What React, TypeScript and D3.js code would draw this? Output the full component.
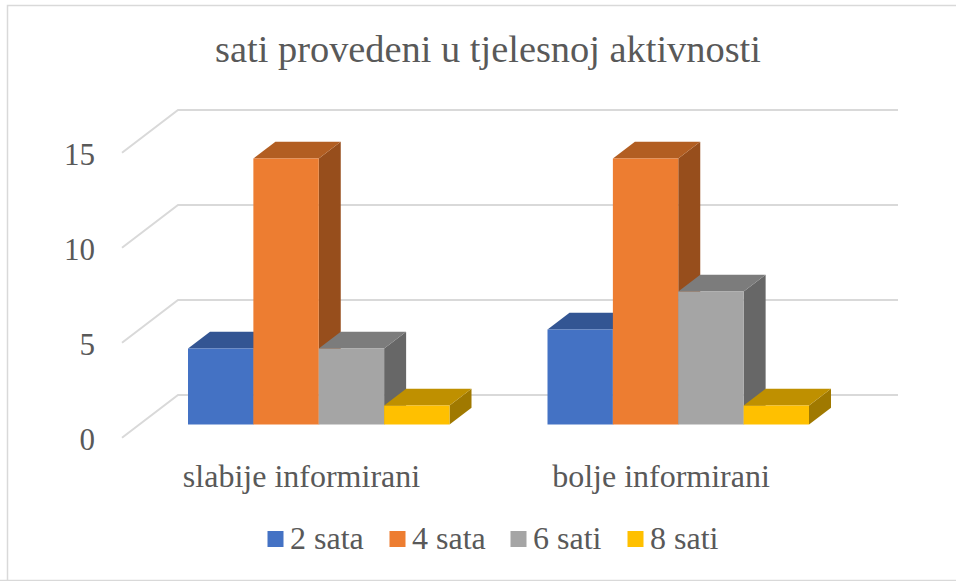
import React from "react";
import * as d3 from "d3";

const categories = ["slabije informirani", "bolje informirani"];
const seriesNames = ["2 sata", "4 sata", "6 sati", "8 sati"];
const values2 = [4, 5];
const values4 = [14, 14];
const values6 = [4, 7];
const values8 = [1, 1];
const seriesValues = [values2, values4, values6, values8];
const colors = ["#4472c4", "#ed7d31", "#a5a5a5", "#ffc000"];
const topColors = ["#335593", "#b25e22", "#7c7c7c", "#bf9000"];
const sideColors = ["#2a4779", "#974e1c", "#676767", "#a07900"];
const yTicks = [0, 5, 10, 15];
const legendX = [268, 390, 511, 628];

const F = "'Liberation Serif','Times New Roman',serif";
const TXT = "#595959";

const x0 = d3.scaleBand<string>().domain(categories).range([139.25, 858.25]);
const x1 = d3.scaleBand<string>().domain(seriesNames).range([48.75, 310.25]);
const yFront = d3.scaleLinear().domain([0, 15]).range([424.5, 139.5]);
const yWallFront = d3.scaleLinear().domain([0, 15]).range([437.7, 152.7]);
const yWallBack = d3.scaleLinear().domain([0, 15]).range([395, 110]);
const DX = 22;
const DY = 16.7;

export default function App() {
  return (
    <svg
      width={956}
      height={581}
      style={{ position: "absolute", left: 0, top: 0, background: "#fff" }}
      fontFamily={F}
    >
      <path d="M7.5 581V5.5H956M0 580.5H956" fill="none" stroke="#d9d9d9" strokeWidth={1.5} />
      <text x={488} y={62} textAnchor="middle" fontSize={38.4} fill={TXT}>
        sati provedeni u tjelesnoj aktivnosti
      </text>
      {yTicks.map((t) => (
        <g key={t}>
          <path
            d={`M122 ${yWallFront(t)}L178 ${yWallBack(t)}H898`}
            fill="none"
            stroke="#d9d9d9"
            strokeWidth={2}
          />
          <text x={95} y={yWallFront(t) + 12} textAnchor="end" fontSize={31} fill={TXT}>
            {t}
          </text>
        </g>
      ))}
      {categories.map((c, ci) => {
        const gx = x0(c)!;
        const w = x1.bandwidth();
        return (
          <g key={c}>
            {seriesNames.map((s, si) => {
              const l = gx + x1(s)!;
              const r = l + w;
              const top = yFront(seriesValues[si][ci]);
              const base = yFront(0);
              return (
                <g key={s}>
                  <path
                    d={`M${r} ${base}V${top}L${r + DX} ${top - DY}V${base - DY}Z`}
                    fill={sideColors[si]}
                  />
                  <path
                    d={`M${l} ${top}L${l + DX} ${top - DY}H${r + DX}L${r} ${top}Z`}
                    fill={topColors[si]}
                  />
                  <rect x={l} y={top} width={w} height={base - top} fill={colors[si]} />
                </g>
              );
            })}
            <text x={gx + x0.bandwidth() / 2 - 17.5} y={487} textAnchor="middle" fontSize={32} fill={TXT}>
              {c}
            </text>
          </g>
        );
      })}
      {seriesNames.map((s, i) => (
        <g key={s}>
          <rect x={legendX[i] - 0.5} y={531} width={16} height={16} fill={colors[i]} />
          <text x={legendX[i] + 22} y={549} fontSize={32} fill={TXT}>
            {s}
          </text>
        </g>
      ))}
    </svg>
  );
}
